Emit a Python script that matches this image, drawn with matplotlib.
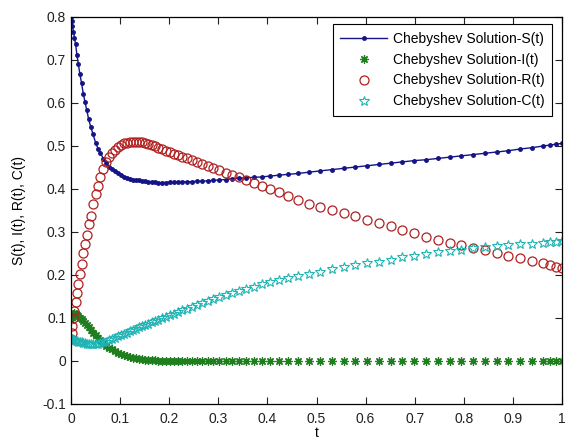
import matplotlib
matplotlib.use('Agg')
import matplotlib.pyplot as plt

t = [0.0, 0.0015, 0.003, 0.005, 0.007, 0.0095, 0.012, 0.015, 0.018, 0.0215,
     0.025, 0.0285, 0.032, 0.036, 0.04, 0.045, 0.05, 0.055, 0.06, 0.066,
     0.072, 0.078, 0.084, 0.09, 0.096, 0.102, 0.108, 0.114, 0.12, 0.126,
     0.132, 0.138, 0.144, 0.15, 0.157, 0.164, 0.171, 0.178, 0.185, 0.193,
     0.201, 0.209, 0.218, 0.227, 0.236, 0.246, 0.256, 0.267, 0.278, 0.29,
     0.302, 0.315, 0.328, 0.342, 0.357, 0.372, 0.388, 0.405, 0.423, 0.442,
     0.462, 0.484, 0.507, 0.531, 0.555, 0.579, 0.603, 0.627, 0.651, 0.675,
     0.699, 0.723, 0.747, 0.771, 0.795, 0.819, 0.843, 0.867, 0.891, 0.915,
     0.939, 0.962, 0.975, 0.987, 1.0]

s_t = [0.800, 0.790, 0.779, 0.765, 0.752, 0.736, 0.712, 0.690, 0.668, 0.646,
       0.622, 0.602, 0.584, 0.562, 0.545, 0.527, 0.508, 0.494, 0.483, 0.470,
       0.460, 0.452, 0.446, 0.441, 0.437, 0.433, 0.429, 0.426, 0.424, 0.422,
       0.421, 0.420, 0.419, 0.418, 0.417, 0.416, 0.416, 0.415, 0.415, 0.415,
       0.416, 0.416, 0.416, 0.417, 0.417, 0.417, 0.418, 0.418, 0.419, 0.420,
       0.421, 0.422, 0.424, 0.425, 0.426, 0.427, 0.428, 0.430, 0.432, 0.434,
       0.436, 0.439, 0.442, 0.445, 0.448, 0.451, 0.454, 0.457, 0.460, 0.463,
       0.466, 0.468, 0.471, 0.474, 0.477, 0.480, 0.483, 0.486, 0.489, 0.493,
       0.496, 0.500, 0.502, 0.504, 0.506]

i_t = [0.095, 0.102, 0.107, 0.110, 0.111, 0.110, 0.108, 0.105, 0.101, 0.097,
       0.093, 0.088, 0.084, 0.079, 0.073, 0.066, 0.060, 0.054, 0.048, 0.042,
       0.036, 0.031, 0.027, 0.023, 0.019, 0.016, 0.013, 0.011, 0.009, 0.007,
       0.006, 0.005, 0.004, 0.003, 0.003, 0.002, 0.002, 0.001, 0.001, 0.001,
       0.001, 0.001, 0.001, 0.001, 0.001, 0.0, 0.0, 0.0, 0.0, 0.0,
       0.0, 0.0, 0.0, 0.0, 0.0, 0.0, 0.0, 0.0, 0.0, 0.0,
       0.0, 0.0, 0.0, 0.0, 0.0, 0.0, 0.0, 0.0, 0.0, 0.0,
       0.0, 0.0, 0.0, 0.0, 0.0, 0.0, 0.0, 0.0, 0.0, 0.0,
       0.0, 0.0, 0.0, 0.0, 0.0]

r_t = [0.050, 0.066, 0.082, 0.100, 0.117, 0.138, 0.158, 0.180, 0.202, 0.226,
       0.250, 0.272, 0.292, 0.318, 0.337, 0.365, 0.388, 0.408, 0.428, 0.447,
       0.462, 0.474, 0.483, 0.491, 0.497, 0.502, 0.506, 0.508, 0.510, 0.510,
       0.510, 0.510, 0.509, 0.507, 0.505, 0.502, 0.499, 0.496, 0.493, 0.489,
       0.486, 0.482, 0.479, 0.475, 0.471, 0.467, 0.463, 0.458, 0.454, 0.449,
       0.444, 0.438, 0.433, 0.427, 0.421, 0.415, 0.408, 0.401, 0.392, 0.383,
       0.374, 0.365, 0.358, 0.351, 0.344, 0.337, 0.329, 0.321, 0.313, 0.305,
       0.297, 0.289, 0.281, 0.275, 0.269, 0.263, 0.257, 0.251, 0.245, 0.239,
       0.233, 0.227, 0.223, 0.219, 0.216]

c_t = [0.050, 0.050, 0.049, 0.049, 0.048, 0.047, 0.046, 0.045, 0.044, 0.043,
       0.042, 0.041, 0.040, 0.040, 0.039, 0.039, 0.039, 0.040, 0.041, 0.043,
       0.045, 0.048, 0.051, 0.054, 0.057, 0.060, 0.063, 0.066, 0.069, 0.072,
       0.075, 0.078, 0.081, 0.084, 0.087, 0.090, 0.093, 0.096, 0.099, 0.103,
       0.106, 0.110, 0.114, 0.118, 0.122, 0.126, 0.130, 0.135, 0.139, 0.144,
       0.149, 0.154, 0.158, 0.163, 0.168, 0.173, 0.178, 0.183, 0.188, 0.193,
       0.198, 0.203, 0.208, 0.213, 0.218, 0.223, 0.227, 0.231, 0.235, 0.241,
       0.245, 0.249, 0.253, 0.256, 0.259, 0.262, 0.265, 0.267, 0.269, 0.271,
       0.273, 0.275, 0.276, 0.277, 0.278]

x_ticks = [0, 0.1, 0.2, 0.3, 0.4, 0.5, 0.6, 0.7, 0.8, 0.9, 1]
x_labels = ['0', '0.1', '0.2', '0.3', '0.4', '0.5', '0.6', '0.7', '0.8', '0.9', '1']
y_ticks = [-0.1, 0, 0.1, 0.2, 0.3, 0.4, 0.5, 0.6, 0.7, 0.8]
y_labels = ['-0.1', '0', '0.1', '0.2', '0.3', '0.4', '0.5', '0.6', '0.7', '0.8']


def main():
    plt.rcParams['font.family'] = ['Liberation Sans', 'DejaVu Sans']
    plt.rcParams['font.size'] = 10

    fig = plt.figure(figsize=(5.74, 4.42), dpi=100)
    ax = fig.add_axes([0.1237, 0.086, 0.8554, 0.8756])

    ax.plot(t, s_t, '-', color='#141488', marker='.', markersize=5,
            linewidth=1, label='Chebyshev Solution-S(t)')
    ax.plot(t, i_t, color='#1f7f1f', marker=(8, 2, 0), markersize=6,
            markeredgewidth=0.9, linestyle='none',
            label='Chebyshev Solution-I(t)')
    ax.plot(t, r_t, 'o', markeredgecolor='#b02020', markerfacecolor='none',
            markersize=6.5, markeredgewidth=0.9, linestyle='none',
            label='Chebyshev Solution-R(t)')
    ax.plot(t, c_t, '*', markeredgecolor='#20b4b4', markerfacecolor='none',
            markersize=7, markeredgewidth=0.8, linestyle='none',
            label='Chebyshev Solution-C(t)')

    ax.set_xlim(0, 1)
    ax.set_ylim(-0.1, 0.8)
    ax.set_xticks(x_ticks)
    ax.set_xticklabels(x_labels)
    ax.set_yticks(y_ticks)
    ax.set_yticklabels(y_labels)
    ax.tick_params(direction='in', length=5, width=0.8, top=True, right=True,
                   colors='#222222', labelsize=10)
    ax.tick_params(axis='x', pad=6)
    for sp in ax.spines.values():
        sp.set_linewidth(0.9)

    ax.set_xlabel('t', labelpad=0)
    ax.set_ylabel('S(t), I(t), R(t), C(t)', labelpad=12)

    leg = ax.legend(loc='upper right', bbox_to_anchor=(0.98, 0.982),
                    borderaxespad=0, fancybox=False, framealpha=1,
                    edgecolor='black', handlelength=3.4, labelspacing=0.5,
                    handletextpad=0.4, borderpad=0.55, fontsize=10)
    leg.get_frame().set_linewidth(0.8)

    fig.savefig('out.png', dpi=100)


if __name__ == '__main__':
    main()
